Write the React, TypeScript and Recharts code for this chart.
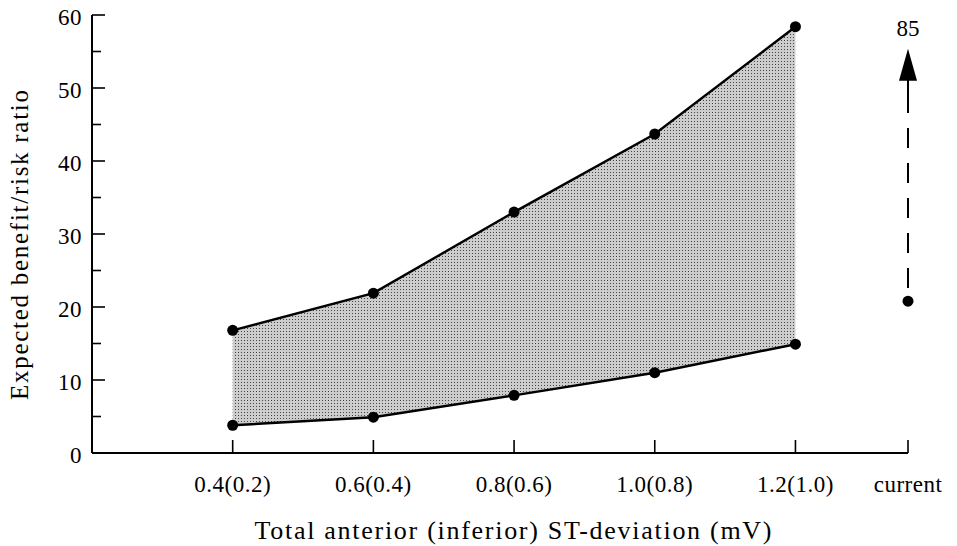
import React from 'react';
import {
  ComposedChart,
  Area,
  Line,
  Scatter,
  XAxis,
  YAxis,
  ReferenceLine,
  ReferenceDot,
  Label,
} from 'recharts';

// ---- data ----
const categories = ['0.4(0.2)', '0.6(0.4)', '0.8(0.6)', '1.0(0.8)', '1.2(1.0)'];
const categoryPositions = [1, 2, 3, 4, 5];
const upperRatio = [16.8, 21.9, 33.0, 43.7, 58.4];
const lowerRatio = [3.8, 4.9, 7.9, 11.0, 14.9];
const currentCategory = 'current';
const currentPosition = [5.8];
const currentRatio = [20.8];
const currentTrueLabel = '85';
const arrowDashed = [22.6, 48.5];
const arrowSolid = [47.5, 51.5];
const arrowHeadBase = [51];
const labelPosition = [58.2];
const yTicks = [0, 5, 10, 15, 20, 25, 30, 35, 40, 45, 50, 55, 60];
const xTicks = [...categoryPositions, currentPosition[0]];

const FONT = '"Liberation Serif", "DejaVu Serif", serif';

const rows = categories.map((c, i) => ({
  x: categoryPositions[i],
  name: c,
  upper: upperRatio[i],
  lower: lowerRatio[i],
  range: [lowerRatio[i], upperRatio[i]],
}));

const currentRows = [{ x: currentPosition[0], y: currentRatio[0] }];

const XTick = (props: any) => {
  const { x, y, payload } = props;
  const v = payload.value;
  const idx = categoryPositions.indexOf(v);
  const label = idx >= 0 ? categories[idx] : currentCategory;
  return (
    <g>
      <line x1={x} x2={x} y1={y} y2={y - 13} stroke="#000" strokeWidth={1.6} />
      <text
        x={x}
        y={y + 39}
        textAnchor="middle"
        fontFamily={FONT}
        fontSize={23}
        letterSpacing={0.5}
        fill="#000"
      >
        {label}
      </text>
    </g>
  );
};

const YTick = (props: any) => {
  const { x, y, payload } = props;
  const v = payload.value;
  const major = v % 10 === 0;
  return (
    <g>
      <line x1={x} x2={x + (major ? 13 : 9)} y1={y} y2={y} stroke="#000" strokeWidth={1.6} />
      {major && (
        <text
          x={x - 10}
          y={y + 2}
          textAnchor="end"
          dominantBaseline="central"
          fontFamily={FONT}
          fontSize={23}
          letterSpacing={0.5}
          fill="#000"
        >
          {v}
        </text>
      )}
    </g>
  );
};

const Dot = (props: any) => {
  const { cx, cy } = props;
  if (cx == null || cy == null) return null;
  return <circle cx={cx} cy={cy} r={5.5} fill="#000" />;
};

const ArrowHead = (props: any) => {
  const { cx, cy } = props;
  return <polygon points={`${cx},${cy - 32} ${cx - 9},${cy} ${cx + 9},${cy}`} fill="#000" />;
};

const TopLabel = (props: any) => {
  const { cx, cy } = props;
  return (
    <text
      x={cx}
      y={cy}
      textAnchor="middle"
      dominantBaseline="central"
      fontFamily={FONT}
      fontSize={23}
      fill="#000"
    >
      {currentTrueLabel}
    </text>
  );
};

export default function App() {
  return (
    <div style={{ position: 'absolute', left: 0, top: 0, background: '#fff' }}>
      <ComposedChart
        width={957}
        height={546}
        data={rows}
        margin={{ top: 15, right: 49, bottom: 0, left: 12 }}
      >
        <defs>
          <pattern id="stipple" width="3" height="3" patternUnits="userSpaceOnUse">
            <rect width="3" height="3" fill="#cdcdcd" />
            <rect x="1" y="1" width="1" height="1" fill="#444" />
          </pattern>
        </defs>
        <XAxis
          type="number"
          dataKey="x"
          domain={[0, currentPosition[0]]}
          ticks={xTicks}
          interval={0}
          tickSize={0}
          tickMargin={0}
          tickLine={false}
          tick={<XTick />}
          axisLine={{ stroke: '#000', strokeWidth: 2 }}
          height={93}
        >
          <Label
            content={() => (
              <text
                x={513}
                y={539}
                textAnchor="middle"
                fontFamily={FONT}
                fontSize={26}
                textLength={517}
                lengthAdjust="spacing"
                fill="#000"
              >
                Total anterior (inferior) ST-deviation (mV)
              </text>
            )}
          />
        </XAxis>
        <YAxis
          type="number"
          domain={[0, 60]}
          ticks={yTicks}
          interval={0}
          tickSize={0}
          tickMargin={0}
          tickLine={false}
          tick={<YTick />}
          axisLine={{ stroke: '#000', strokeWidth: 2 }}
          width={80}
        >
          <Label
            content={() => (
              <text
                x={28}
                y={245}
                transform="rotate(-90 28 245)"
                textAnchor="middle"
                fontFamily={FONT}
                fontSize={25}
                textLength={310}
                lengthAdjust="spacing"
                fill="#000"
              >
                Expected benefit/risk ratio
              </text>
            )}
          />
        </YAxis>
        <Area
          type="linear"
          dataKey="range"
          stroke="none"
          fill="url(#stipple)"
          fillOpacity={1}
          isAnimationActive={false}
          dot={false}
          activeDot={false}
        />
        <Line
          type="linear"
          dataKey="upper"
          stroke="#000"
          strokeWidth={2.4}
          dot={<Dot />}
          activeDot={false}
          isAnimationActive={false}
        />
        <Line
          type="linear"
          dataKey="lower"
          stroke="#000"
          strokeWidth={2.4}
          dot={<Dot />}
          activeDot={false}
          isAnimationActive={false}
        />
        <Scatter
          data={currentRows}
          dataKey="y"
          fill="#000"
          shape={<Dot />}
          isAnimationActive={false}
        />
        <ReferenceLine
          segment={[
            { x: currentPosition[0], y: arrowDashed[0] },
            { x: currentPosition[0], y: arrowDashed[1] },
          ]}
          stroke="#000"
          strokeWidth={2}
          strokeDasharray="20 15"
        />
        <ReferenceLine
          segment={[
            { x: currentPosition[0], y: arrowSolid[0] },
            { x: currentPosition[0], y: arrowSolid[1] },
          ]}
          stroke="#000"
          strokeWidth={2}
        />
        <ReferenceDot
          x={currentPosition[0]}
          y={arrowHeadBase[0]}
          r={0}
          shape={<ArrowHead />}
        />
        <ReferenceDot
          x={currentPosition[0]}
          y={labelPosition[0]}
          r={0}
          shape={<TopLabel />}
        />
      </ComposedChart>
    </div>
  );
}
